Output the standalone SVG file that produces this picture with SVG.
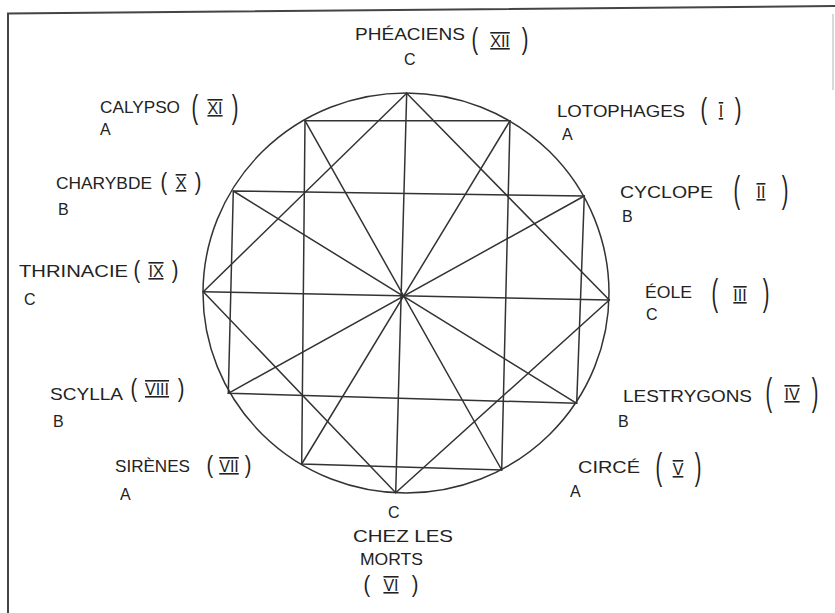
<svg xmlns="http://www.w3.org/2000/svg" width="835" height="613" viewBox="0 0 835 613">
<style>
  .ln { stroke:#333; stroke-width:1.5; fill:none; stroke-linecap:round; }
  .frame { stroke:#444; stroke-width:2; fill:none; }
  text { font-family:"Liberation Sans","DejaVu Sans",sans-serif; fill:#222; }
  .nm { font-size:17px; }
  .lt { font-size:16px; }
  .num { font-size:16px; text-anchor:middle; text-decoration:overline underline; }
  .pr { font-size:20px; }
  .pe { text-anchor:end; }
</style>
<rect x="0" y="0" width="835" height="613" fill="#fff"/>
<g id="frame">
  <path class="frame" d="M8,613 L8,13.5 L835,6"/>
  <path d="M833,14 L833,90" stroke="#ccc" stroke-width="1.5" fill="none"/>
</g>
<g id="circle">
  <ellipse class="ln" cx="406" cy="293" rx="203" ry="200"/>
</g>
<g id="connectors">
  <polygon class="ln" points="406.7,93.3 609.3,300 395.7,492.7 203.3,291.7"/>
  <polygon class="ln" points="305,120.7 510,120.7 501.7,470 301.7,464"/>
  <polygon class="ln" points="233.3,191 584.3,196 576.7,403.3 228.3,393.3"/>
  <line class="ln" x1="406.7" y1="93.3" x2="395.7" y2="492.7"/>
  <line class="ln" x1="510" y1="120.7" x2="301.7" y2="464"/>
  <line class="ln" x1="584.3" y1="196" x2="228.3" y2="393.3"/>
  <line class="ln" x1="609.3" y1="300" x2="203.3" y2="291.7"/>
  <line class="ln" x1="576.7" y1="403.3" x2="233.3" y2="191"/>
  <line class="ln" x1="501.7" y1="470" x2="305" y2="120.7"/>
</g>
<g id="n-XII">
  <text class="nm" x="355" y="40" textLength="110" lengthAdjust="spacingAndGlyphs">PHÉACIENS</text>
  <text class="pr" transform="translate(471.5,48.9) scale(1,1.436)">(</text>
  <text class="num" x="500" y="47">XII</text>
  <text class="pr pe" transform="translate(528.5,48.9) scale(1,1.436)">)</text>
  <text class="lt" x="404" y="65">C</text>
</g>
<g id="n-I">
  <text class="nm" x="557" y="117" textLength="128" lengthAdjust="spacingAndGlyphs">LOTOPHAGES</text>
  <text class="pr" transform="translate(700.5,118.9) scale(1,1.436)">(</text>
  <text class="num" x="721" y="117">I</text>
  <text class="pr pe" transform="translate(741.5,118.9) scale(1,1.436)">)</text>
  <text class="lt" x="562" y="140">A</text>
</g>
<g id="n-II">
  <text class="nm" x="620" y="198" textLength="93" lengthAdjust="spacingAndGlyphs">CYCLOPE</text>
  <text class="pr" transform="translate(733.5,202.1) scale(1,1.862)">(</text>
  <text class="num" x="761" y="198">II</text>
  <text class="pr pe" transform="translate(788.5,202.1) scale(1,1.862)">)</text>
  <text class="lt" x="622" y="222">B</text>
</g>
<g id="n-III">
  <text class="nm" x="645" y="298" textLength="47" lengthAdjust="spacingAndGlyphs">ÉOLE</text>
  <text class="pr" transform="translate(711.5,305.1) scale(1,1.862)">(</text>
  <text class="num" x="740" y="301">III</text>
  <text class="pr pe" transform="translate(769.5,305.1) scale(1,1.862)">)</text>
  <text class="lt" x="646" y="320">C</text>
</g>
<g id="n-IV">
  <text class="nm" x="623" y="402" textLength="129" lengthAdjust="spacingAndGlyphs">LESTRYGONS</text>
  <text class="pr" transform="translate(765.5,404.9) scale(1,1.915)">(</text>
  <text class="num" x="792" y="400">IV</text>
  <text class="pr pe" transform="translate(818.5,404.9) scale(1,1.915)">)</text>
  <text class="lt" x="618" y="427">B</text>
</g>
<g id="n-V">
  <text class="nm" x="578" y="473" textLength="62" lengthAdjust="spacingAndGlyphs">CIRCÉ</text>
  <text class="pr" transform="translate(655.5,479.3) scale(1,1.809)">(</text>
  <text class="num" x="678" y="475">V</text>
  <text class="pr pe" transform="translate(701.5,479.3) scale(1,1.809)">)</text>
  <text class="lt" x="570" y="497">A</text>
</g>
<g id="n-VI">
  <text class="lt" x="388" y="518">C</text>
  <text class="nm" x="353" y="542" textLength="100" lengthAdjust="spacingAndGlyphs">CHEZ LES</text>
  <text class="nm" x="360" y="565" textLength="63" lengthAdjust="spacingAndGlyphs">MORTS</text>
  <text class="pr" transform="translate(363.5,592) scale(1,1.17)">(</text>
  <text class="num" x="391" y="591">VI</text>
  <text class="pr pe" transform="translate(418.5,592) scale(1,1.17)">)</text>
</g>
<g id="n-VII">
  <text class="nm" x="115" y="472" textLength="75" lengthAdjust="spacingAndGlyphs">SIRÈNES</text>
  <text class="pr" transform="translate(206.5,472.8) scale(1,1.223)">(</text>
  <text class="num" x="229" y="472">VII</text>
  <text class="pr pe" transform="translate(251.5,472.8) scale(1,1.223)">)</text>
  <text class="lt" x="120" y="500">A</text>
</g>
<g id="n-VIII">
  <text class="nm" x="50" y="400" textLength="73" lengthAdjust="spacingAndGlyphs">SCYLLA</text>
  <text class="pr" transform="translate(130.5,396.6) scale(1,1.277)">(</text>
  <text class="num" x="157" y="395">VIII</text>
  <text class="pr pe" transform="translate(184.5,396.6) scale(1,1.277)">)</text>
  <text class="lt" x="53" y="427">B</text>
</g>
<g id="n-IX">
  <text class="nm" x="19" y="277" textLength="109" lengthAdjust="spacingAndGlyphs">THRINACIE</text>
  <text class="pr" transform="translate(133.5,277.8) scale(1,1.223)">(</text>
  <text class="num" x="156" y="277">IX</text>
  <text class="pr pe" transform="translate(178.5,277.8) scale(1,1.223)">)</text>
  <text class="lt" x="24" y="305">C</text>
</g>
<g id="n-X">
  <text class="nm" x="56" y="189" textLength="96" lengthAdjust="spacingAndGlyphs">CHARYBDE</text>
  <text class="pr" transform="translate(160.5,189.8) scale(1,1.223)">(</text>
  <text class="num" x="181" y="189">X</text>
  <text class="pr pe" transform="translate(201.5,189.8) scale(1,1.223)">)</text>
  <text class="lt" x="58" y="215">B</text>
</g>
<g id="n-XI">
  <text class="nm" x="100" y="113" textLength="80" lengthAdjust="spacingAndGlyphs">CALYPSO</text>
  <text class="pr" transform="translate(191.5,117.8) scale(1,1.702)">(</text>
  <text class="num" x="215" y="114">XI</text>
  <text class="pr pe" transform="translate(238.5,117.8) scale(1,1.702)">)</text>
  <text class="lt" x="100" y="135">A</text>
</g>
</svg>
